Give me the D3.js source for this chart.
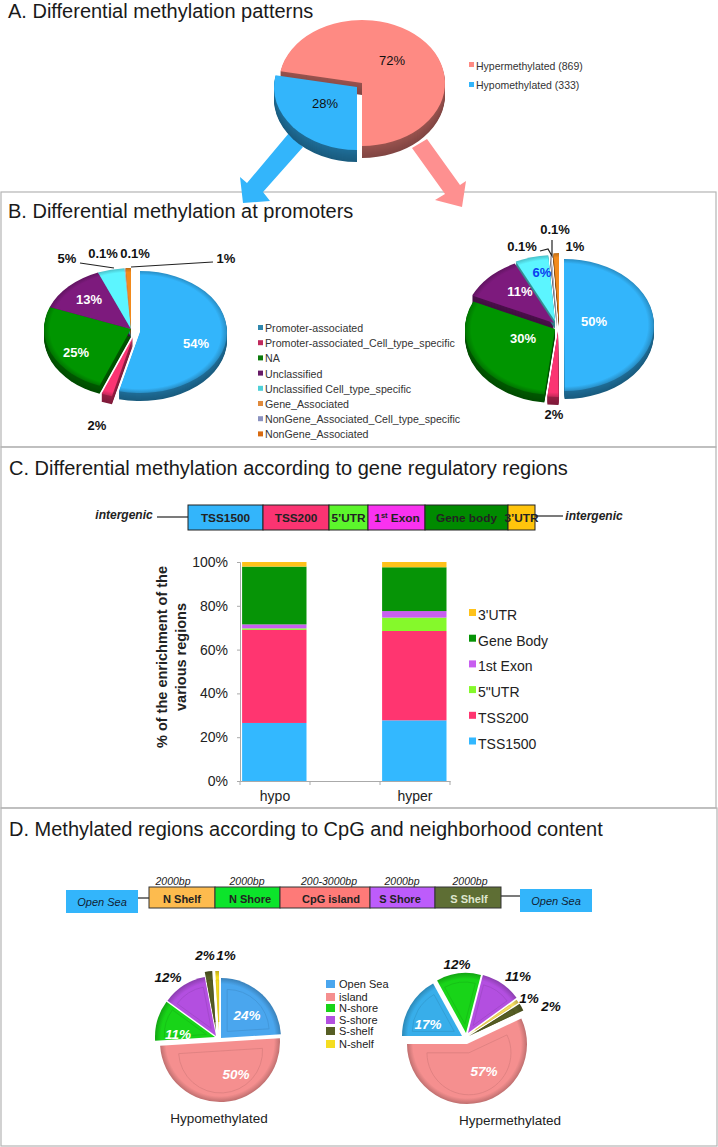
<!DOCTYPE html>
<html><head><meta charset="utf-8">
<script src="https://cdn.jsdelivr.net/npm/d3@7"></script>
<style>html,body{margin:0;padding:0;background:#fff}svg{display:block}text{font-family:"Liberation Sans",Arial,sans-serif}</style>
</head><body><div id="c"></div><script>
// ---- data ----
const patternNames=["Hypomethylated (333)","Hypermethylated (869)"];
const patternValues=[28,72];
const patternColors=["#33b5fb","#fe8a83"];
const promoterNames=["Promoter-associated","Promoter-associated_Cell_type_specific","NA","Unclassified","Unclassified Cell_type_specific","Gene_Associated","NonGene_Associated_Cell_type_specific","NonGene_Associated"];
const promoterHypo=[54,2,25,13,5,0.1,0.1,1];
const promoterHyper=[50,2,30,11,6,0.1,0.1,1];
const promoterColors=["#33b5fb","#fb3472","#009500","#7d1a7d","#5cf5ff","#e9e6ef","#c9cbe0","#f28a1c"];
const promoterLegendColors=["#2f87ad","#c02a5c","#0b7a0b","#661a66","#4fd0d8","#e08a3c","#8a92c0","#d86a10"];
const regionNames=["TSS1500","TSS200","5\"UTR","1st Exon","Gene Body","3'UTR"];
const regionGroups=["hypo"," ","hyper"];
const regionHypo=[26.5,42.5,0.7,1.8,26.4,2.1];
const regionHyper=[27.7,40.8,6.1,3,20,2.4];
const regionColors=["#33b8ff","#ff3570","#85f92b","#c85ef0","#069406","#ffc21a"];
const regionTicks=[0,20,40,60,80,100];
const geneSegments=["TSS1500","TSS200","5’UTR","1st Exon","Gene body","3’UTR"];
const geneColors=["#33b5fb","#fb3472","#5cf52c","#f932f0","#008a00","#ffc40c"];
const cpgNames=["Open Sea","island","N-shore","S-shore","S-shelf","N-shelf"];
const cpgHypo=[24,50,11,12,2,1];
const cpgHyperOrder=[17,12,11,1,2,57];
const cpgHyperColors=["#38aeea","#18d418","#b34fe0","#f5dd60","#565e24","#f58f8f"];
const cpgColors=["#4aa6ee","#f58f8f","#18d418","#b34fe0","#565e24","#f5dd20"];
const cpgSegments=["N Shelf","N Shore","CpG island","S Shore","S Shelf"];
const cpgSegmentSizes=["2000bp","2000bp","200-3000bp","2000bp","2000bp"];
const cpgSegmentColors=["#fdbb4e","#0ce42b","#fe7a78","#bd5cfb","#5e6e34"];

// ---- page ----
const svg=d3.select("#c").append("svg").attr("width",718).attr("height",1147);
const defs=svg.append("defs");
let uid=0;
function label(t,x,y,o={}){
  return svg.append("text").attr("x",x).attr("y",y).text(t)
    .attr("text-anchor",o.a||"middle").attr("font-size",o.s||13)
    .attr("font-weight",o.w||"normal").attr("font-style",o.i||"normal")
    .attr("fill",o.c||"#111").attr("dominant-baseline","central");
}
// panel frames
[[1,192,715,255],[1,447,715,361],[1,808,716,338]].forEach(r=>svg.append("rect")
  .attr("x",r[0]).attr("y",r[1]).attr("width",r[2]).attr("height",r[3])
  .attr("fill","none").attr("stroke","#b4b4b4").attr("stroke-width",1.2));
// titles
[["A. Differential methylation patterns",8,11],["B. Differential methylation at promoters",8,211],
 ["C. Differential methylation according to gene regulatory regions",9,468],
 ["D. Methylated regions according to CpG and neighborhood content",9,829]]
 .forEach(t=>label(t[0],t[1],t[2],{a:"start",s:20,c:"#1a1a1a"}));

function pie3d(o){
  const arcs=d3.pie().sort(null).value(d=>d).startAngle(o.start).endAngle(o.start+2*Math.PI)(o.values);
  const arc=d3.arc().innerRadius(0).outerRadius(o.rx);
  const sy=o.ry/o.rx;
  const g=svg.append("g").attr("transform",`translate(${o.cx},${o.cy})`);
  const tr=(i,k)=>`translate(${o.off[i][0]},${o.off[i][1]+k}) scale(1,${sy})`;
  if(o.depth){
    arcs.forEach((a,i)=>{
      d3.range(o.depth,0,-1).forEach(k=>g.append("path").attr("d",arc(a)).attr("transform",tr(i,k))
        .attr("fill",d3.color(o.colors[i]).darker(1.4+0.5*k/o.depth)));
    });
  }
  arcs.forEach((a,i)=>{
    let fill=o.colors[i];
    if(o.rim){
      const id="g"+(uid++);
      const gr=defs.append("radialGradient").attr("id",id).attr("gradientUnits","userSpaceOnUse")
        .attr("cx",0).attr("cy",0).attr("r",o.rx);
      gr.append("stop").attr("offset",1-o.rim).attr("stop-color",o.colors[i]);
      gr.append("stop").attr("offset",1).attr("stop-color",d3.color(o.colors[i]).darker(0.7));
      fill=`url(#${id})`;
    }
    g.append("path").attr("d",arc(a)).attr("transform",tr(i,0)).attr("fill",fill);
    if(o.bevel){
      const c=arc.centroid(a);
      g.append("path").attr("d",arc(a)).attr("fill","none")
        .attr("stroke",d3.color(o.colors[i]).darker(0.3)).attr("stroke-width",1.2)
        .attr("transform",`translate(${o.off[i][0]+c[0]*0.3},${o.off[i][1]+c[1]*0.3}) scale(0.7)`);
    }
  });
}
const lineC=(pts,w=1.2)=>svg.append("path").attr("d",d3.line()(pts)).attr("fill","none").attr("stroke","#222").attr("stroke-width",w);

// ---- A ----
const arrowBlue=[[289,133],[303,147],[263,192],[270,201],[243,203],[240,177],[247,183]];
const arrowRed=[[412,148],[427,139],[460,185],[466,181],[462,207],[435,200],[445,194]];
svg.append("polygon").attr("points",arrowBlue.join(" ")).attr("fill","#33b5fb");
svg.append("polygon").attr("points",arrowRed.join(" ")).attr("fill","#fe9090");
pie3d({cx:362,cy:83,rx:83,ry:63,depth:12,values:patternValues,colors:patternColors,start:Math.PI,off:[[-5,4],[0,0]]});
label("72%",392,60,{s:13});
label("28%",325,103,{s:13});
[[1,66],[0,85]].forEach(r=>{
  svg.append("rect").attr("x",469).attr("y",r[1]-3+(r[0]?-1:0)).attr("width",5).attr("height",5).attr("fill",patternColors[r[0]]);
  label(patternNames[r[0]],476,r[1],{a:"start",s:10.5,c:"#333"});
});

// ---- B ----
pie3d({cx:131,cy:329,rx:87,ry:61,depth:8,rim:.07,values:promoterHypo,colors:promoterColors,start:0,
  off:[[9,3],[2,8],[0,0],[0,0],[0,0],[0,0],[0,0],[0,0]]});
pie3d({cx:557,cy:325,rx:90,ry:66,depth:8,rim:.07,values:promoterHyper,colors:promoterColors,start:0,
  off:[[7,0],[1,6],[-2,4],[-3,-2],[-2,-4],[0,-4],[0,-4],[2,-6]]});
[["54%",196,343,"#fff"],["25%",76,352,"#fff"],["13%",89,299,"#fff"],["2%",97,425],["5%",67,258],["0.1%",103,253],["0.1%",135,253],["1%",226,258],
 ["50%",594,321,"#fff"],["30%",523,338,"#fff"],["11%",520,291,"#fff"],["6%",542,272,"#0a40f0"],["2%",554,414],["0.1%",522,246],["0.1%",555,229],["1%",575,246]]
 .forEach(l=>label(l[0],l[1],l[2],{w:"bold",s:13,c:l[3]||"#111"}));
lineC([[80,263],[114,268]]);lineC([[131,267],[213,262]]);
lineC([[540,251],[548,249],[552,256],[552,240]]);
promoterNames.forEach((n,i)=>{
  const y=328+i*15.2;
  svg.append("rect").attr("x",258).attr("y",y-3).attr("width",5).attr("height",5).attr("fill",promoterLegendColors[i]);
  label(n,265,y,{a:"start",s:10.65,c:"#333"});
});

// ---- C ----
const geneX=[188,263,329,368,425,508,535];
geneSegments.forEach((n,i)=>{
  svg.append("rect").attr("x",geneX[i]).attr("y",505).attr("width",geneX[i+1]-geneX[i]).attr("height",25)
    .attr("fill",geneColors[i]).attr("stroke","#222").attr("stroke-width",1);
});
["TSS1500","TSS200","5’UTR",null,"Gene body","3’UTR"].forEach((n,i)=>{
  if(n) label(n,(geneX[i]+geneX[i+1])/2,518,{w:"bold",s:11.8,c:"#222"});
});
const ex=label("",397,518,{w:"bold",s:11.8,c:"#222"});
ex.append("tspan").text("1");ex.append("tspan").text("st").attr("font-size",7.5).attr("dy",-3);ex.append("tspan").text(" Exon").attr("dy",3);
lineC([[157,517],[188,517]]);lineC([[535,516],[563,516]]);
label("intergenic",124,515,{w:"bold",i:"italic",s:12,c:"#222"});
label("intergenic",594,516,{w:"bold",i:"italic",s:12,c:"#222"});

const yC=d3.scaleLinear().domain([0,100]).range([781,562]);
const xC=d3.scaleBand().domain(regionGroups).range([240,450]);
const series=d3.stack().keys(regionNames.map((_,i)=>i))([regionHypo,regionHyper].map(a=>Object.assign({},a)));
series.forEach((s,i)=>{
  ["hypo","hyper"].forEach((g,j)=>{
    const bw=xC.bandwidth();
    svg.append("rect").attr("x",xC(g)+bw*.03).attr("width",bw*.92)
      .attr("y",yC(s[j][1])).attr("height",yC(s[j][0])-yC(s[j][1])).attr("fill",regionColors[i]);
  });
});
const yAxis=svg.append("g").attr("transform","translate(240,0)").call(d3.axisLeft(yC).tickValues(regionTicks).tickFormat(d=>d+"%").tickSize(3));
yAxis.selectAll("text").attr("font-size",14).attr("fill","#222").attr("dx",-6);
yAxis.selectAll("path,line").attr("stroke","#aaa");
const xAxis=svg.append("g").attr("transform","translate(0,781)").call(d3.axisBottom(xC).tickSize(0));
xAxis.selectAll("text").attr("font-size",14).attr("fill","#222").attr("dy",17);
xAxis.selectAll("path").attr("stroke","#aaa");
[...regionGroups.map(g=>xC(g)),450].forEach(x=>svg.append("line").attr("x1",x).attr("x2",x).attr("y1",781).attr("y2",785).attr("stroke","#aaa"));
const yl=svg.append("g").attr("transform","translate(170,657) rotate(-90)");
["% of the enrichment of the","various regions"].forEach((t,i)=>yl.append("text").attr("y",-3+i*19).attr("text-anchor","middle").attr("font-size",14.5).attr("font-weight","bold").attr("fill","#222").text(t));
regionNames.slice().reverse().forEach((n,i)=>{
  const y=614+i*25.7;
  svg.append("rect").attr("x",469).attr("y",y-5).attr("width",7).attr("height",7).attr("fill",regionColors[5-i]);
  label(n,478,y+1,{a:"start",s:14,c:"#222"});
});

// ---- D ----
const cpgX=[149,215,280,370,435,501];
const cpgLabelX=[182,250,331,400,469];
const cpgSizeX=[173,247,329,402,470];
lineC([[138,898],[149,898]]);lineC([[501,896],[520,896]]);
cpgSegments.forEach((n,i)=>{
  svg.append("rect").attr("x",cpgX[i]).attr("y",887).attr("width",cpgX[i+1]-cpgX[i]).attr("height",21)
    .attr("fill",cpgSegmentColors[i]).attr("stroke","#333").attr("stroke-width",1);
  label(n,cpgLabelX[i],899,{w:"bold",s:11,c:i==4?"#dfe6cf":"#222"});
  label(cpgSegmentSizes[i],cpgSizeX[i],881,{i:"italic",s:10.5,c:"#222"});
});
[[66,890],[520,889]].forEach(b=>{
  svg.append("rect").attr("x",b[0]).attr("y",b[1]).attr("width",72).attr("height",23).attr("fill","#33b5fb");
  label("Open Sea",b[0]+36,b[1]+12,{i:"italic",s:11,c:"#123"});
});
pie3d({cx:218,cy:1038,rx:60,ry:60,depth:0,rim:.1,bevel:true,values:cpgHypo,colors:cpgColors,start:0,
  off:[[3,0],[2,4],[-3,-1],[-2,-2],[-2,-7],[1,-7]]});
pie3d({cx:465,cy:1039,rx:60,ry:60,depth:0,rim:.1,bevel:true,values:cpgHyperOrder,colors:cpgHyperColors,start:-Math.PI/2,
  off:[[-3,-3],[1,-6],[3,-6],[3,-4],[4,-3],[2,5]]});
[["24%",247,1015,"#fff"],["50%",236,1074,"#fff"],["11%",178,1034,"#fff"],["12%",168,977],["2%",205,955],["1%",226,955],
 ["17%",428,1024,"#fff"],["12%",457,964],["11%",518,976],["1%",529,998],["2%",551,1006],["57%",484,1071,"#fff"]]
 .forEach(l=>label(l[0],l[1],l[2],{w:"bold",i:"italic",s:13.5,c:l[3]||"#111"}));
label("Hypomethylated",219,1118,{s:13.5,c:"#222"});
label("Hypermethylated",510,1120,{s:13.5,c:"#222"});
const cpgLegendY=[984,997,1008,1020,1031,1044];
cpgNames.forEach((n,i)=>{
  svg.append("rect").attr("x",326).attr("y",cpgLegendY[i]-4).attr("width",9).attr("height",8).attr("fill",cpgColors[i]);
  label(n,339,cpgLegendY[i],{a:"start",s:11,c:"#222"});
});
</script></body></html>
